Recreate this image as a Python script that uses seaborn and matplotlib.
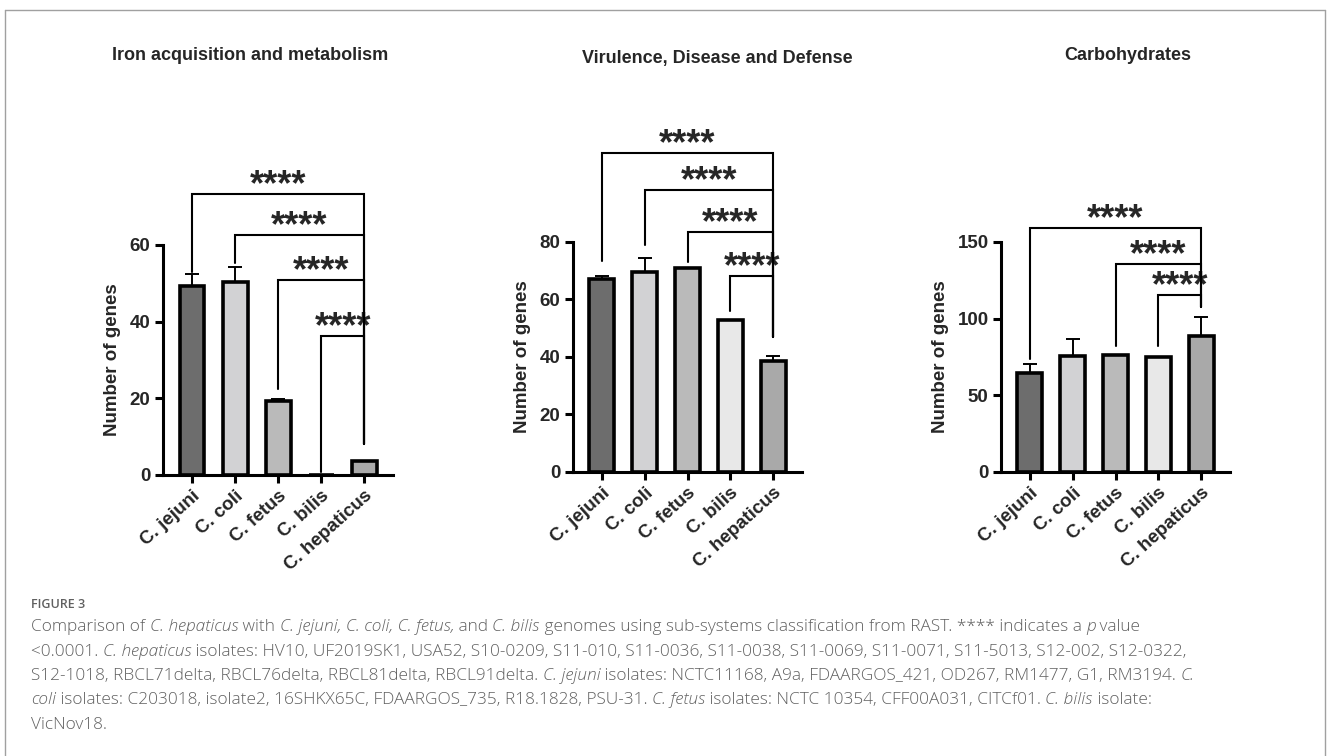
import matplotlib
matplotlib.use("Agg")
import matplotlib.pyplot as plt
import seaborn as sns
import pandas as pd
import numpy as np
from matplotlib.lines import Line2D

species = ["C. jejuni", "C. coli", "C. fetus", "C. bilis", "C. hepaticus"]
colors = ["#6d6d6d", "#d2d2d4", "#bababa", "#e8e8e8", "#a9a9a9"]

titles = ["Iron acquisition and metabolism", "Virulence, Disease and Defense", "Carbohydrates"]

iron_mean = [49.2, 50.3, 19.2, 0.0, 3.7]
iron_err = [3.2, 4.0, 0.6, 0.0, 0.0]
vir_mean = [67.2, 69.6, 70.8, 52.9, 38.7]
vir_err = [1.0, 4.8, 0.0, 0.0, 1.6]
carb_mean = [64.8, 75.6, 76.3, 75.3, 88.5]
carb_err = [5.8, 11.0, 0.0, 0.0, 12.5]

iron_ticks = [0, 20, 40, 60]
vir_ticks = [0, 20, 40, 60, 80]
carb_ticks = [0, 50, 100, 150]

# brackets: (from index, bracket height, left leg end); all go to C. hepaticus
iron_brackets = [(0, 73.3, 53.0), (1, 62.6, 55.3), (2, 50.9, 22.4), (3, 36.3, 0.8)]
iron_right_end = 8.0
vir_brackets = [(0, 111.0, 73.4), (1, 98.0, 79.0), (2, 83.5, 73.0), (3, 68.2, 56.0)]
vir_right_end = 47.0
carb_brackets = [(0, 159.0, 73.7), (2, 135.6, 82.0), (3, 115.4, 82.0)]
carb_right_end = 107.6
star_label = "****"

W, H = 1328, 756
fig = plt.figure(figsize=(W / 100, H / 100), dpi=100)
sns.set_style("white")
plt.rcParams["font.family"] = ["Liberation Sans", "DejaVu Sans"]

def px_axes(x0, x1, y0, y1):
    return fig.add_axes([x0 / W, 1 - y0 / H, (x1 - x0) / W, (y0 - y1) / H])

panels = [
    (iron_mean, iron_err, iron_ticks, iron_brackets, iron_right_end, (163, 393, 475, 245)),
    (vir_mean, vir_err, vir_ticks, vir_brackets, vir_right_end, (573, 802, 472, 242)),
    (carb_mean, carb_err, carb_ticks, carb_brackets, carb_right_end, (1001, 1230, 472, 242)),
]

for mean, err, ticks, brackets, right_end, box in panels:
    ax = px_axes(*box)
    df = pd.DataFrame({"species": species, "genes": mean})
    sns.barplot(data=df, x="species", y="genes", hue="species", palette=colors,
                order=species, hue_order=species, legend=False, errorbar=None,
                width=0.58, edgecolor="black", linewidth=2.6, ax=ax, zorder=3)
    xs = np.arange(len(species))
    e = np.array(err)
    m = np.array(mean)
    msk = e > 0
    ax.errorbar(xs[msk], m[msk], yerr=[np.zeros(msk.sum()), e[msk]], fmt="none",
                ecolor="black", elinewidth=1.4, capsize=5, capthick=1.4, zorder=2)
    ax.set_xlim(-0.674, 4.67)
    ax.set_ylim(0, ticks[-1])
    ax.set_yticks(ticks)
    ax.set_xlabel("")
    ax.set_ylabel("Number of genes", fontsize=13.5, fontweight="bold", labelpad=6)
    for s in ["top", "right"]:
        ax.spines[s].set_visible(False)
    for s in ["left", "bottom"]:
        ax.spines[s].set_linewidth(2.2)
        ax.spines[s].set_color("black")
    ax.tick_params(axis="both", length=6, width=2.2, color="black", direction="out",
                   labelsize=13.5, pad=3, left=True, bottom=True)
    ax.set_xticks(xs)
    ax.set_xticklabels(species, rotation=42, ha="right", rotation_mode="anchor",
                       fontweight="bold", fontsize=13.5)
    for lab in ax.get_yticklabels():
        lab.set_fontweight("bold")
    for i0, yb, yl in brackets:
        ax.plot([i0, i0, 4, 4], [yl, yb, yb, right_end], color="black", lw=1.5,
                clip_on=False, zorder=4, solid_joinstyle="miter")
        ax.annotate(star_label, xy=((i0 + 4) / 2, yb), xytext=(0, -1),
                    textcoords="offset points", ha="center", va="baseline",
                    fontsize=26, fontweight="bold", annotation_clip=False)

tpos = [(250, 55), (717, 59), (1128, 55)]
for t, (x, y) in zip(titles, tpos):
    fig.text(x / W, 1 - y / H, t, ha="center", va="center", fontsize=13, fontweight="bold")

# frame
for xd, yd in [([4.5, 1325], [9.5, 9.5]), ([4.5, 4.5], [9.5, 760]), ([1325, 1325], [9.5, 760])]:
    fig.add_artist(Line2D([v / W for v in xd], [1 - v / H for v in yd], color="#a0a0a0", lw=1))

# caption
cap_color = "#606060"
cap_font = ["Open Sans", "DejaVu Sans"]
cap_size = 12.45
fig.text(31 / W, 1 - 604 / H, "FIGURE 3", fontsize=9, color=cap_color, family=cap_font,
         fontweight="semibold", va="center", ha="left")

caption_lines = [
    [("Comparison of ", 0), ("C. hepaticus", 1), (" with ", 0), ("C. jejuni, C. coli, C. fetus,", 1),
     (" and ", 0), ("C. bilis", 1), (" genomes using sub-systems classification from RAST. **** indicates a ", 0),
     ("p", 1), (" value", 0)],
    [("<0.0001. ", 0), ("C. hepaticus", 1),
     (" isolates: HV10, UF2019SK1, USA52, S10-0209, S11-010, S11-0036, S11-0038, S11-0069, S11-0071, S11-5013, S12-002, S12-0322,", 0)],
    [("S12-1018, RBCL71delta, RBCL76delta, RBCL81delta, RBCL91delta. ", 0), ("C. jejuni", 1),
     (" isolates: NCTC11168, A9a, FDAARGOS_421, OD267, RM1477, G1, RM3194. ", 0), ("C.", 1)],
    [("coli", 1), (" isolates: C203018, isolate2, 16SHKX65C, FDAARGOS_735, R18.1828, PSU-31. ", 0),
     ("C. fetus", 1), (" isolates: NCTC 10354, CFF00A031, CITCf01. ", 0), ("C. bilis", 1), (" isolate:", 0)],
    [("VicNov18.", 0)],
]

fig.canvas.draw()
renderer = fig.canvas.get_renderer()

def twidth(s, italic):
    style = "italic" if italic else "normal"
    t1 = fig.text(0, 0, "x" + s + "x", fontsize=cap_size, family=cap_font, style=style, fontweight="light")
    t2 = fig.text(0, 0, "xx", fontsize=cap_size, family=cap_font, style=style, fontweight="light")
    w = t1.get_window_extent(renderer).width - t2.get_window_extent(renderer).width
    t1.remove(); t2.remove()
    return w

y0 = 627
for li, segs in enumerate(caption_lines):
    x = 31.0
    y = y0 + li * 24.5
    for s, it in segs:
        fig.text(x / W, 1 - y / H, s, fontsize=cap_size, family=cap_font, color=cap_color,
                 style="italic" if it else "normal", fontweight="light", va="center", ha="left")
        x += twidth(s, it)

fig.savefig("out.png", dpi=100)
